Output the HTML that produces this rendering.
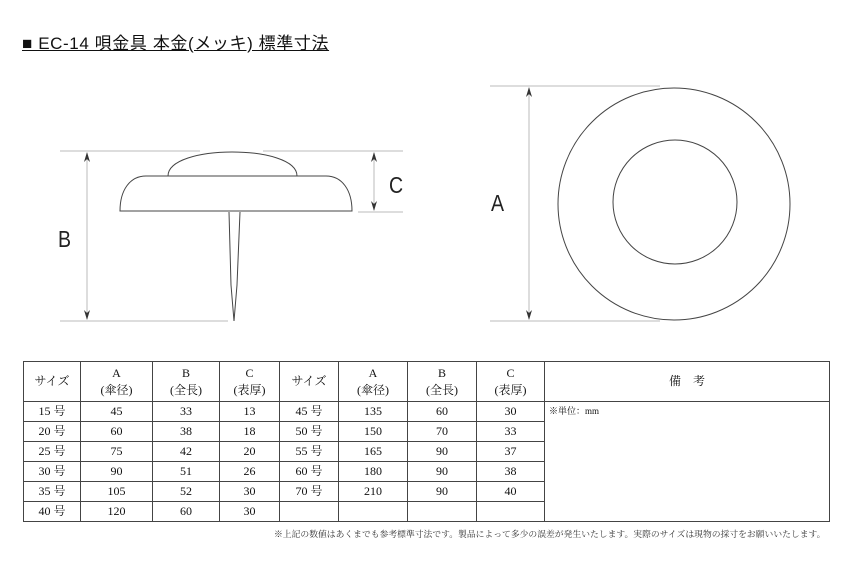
<!DOCTYPE html>
<html><head><meta charset="utf-8"><style>
body{margin:0;width:850px;height:567px;background:#fff;position:relative;overflow:hidden;font-family:"Liberation Serif","Noto Serif CJK SC",serif;}
.title{position:absolute;left:22px;top:29px;font-family:"Liberation Sans","Noto Sans CJK JP",sans-serif;font-size:17px;color:#111;text-decoration:underline;white-space:nowrap;letter-spacing:0.6px}
table{position:absolute;left:23px;top:361px;border-collapse:collapse;font-size:12px;color:#111}
td{border:1px solid #444;text-align:center;padding:0;height:19px;line-height:19px}
.h td{height:39px;line-height:17px}
.note{position:absolute;left:274px;top:527px;font-size:8.8px;color:#333;white-space:nowrap}
</style></head><body>
<div class="title">■ EC-14 唄金具 本金(メッキ) 標準寸法</div>
<svg width="850" height="567" style="position:absolute;left:0;top:0">
<g stroke="#bbb" stroke-width="1" fill="none">
<line x1="60" y1="151" x2="200" y2="151"/><line x1="263" y1="151" x2="403" y2="151"/>
<line x1="60" y1="321" x2="228" y2="321"/>
<line x1="358" y1="212" x2="403" y2="212"/>
<line x1="87" y1="153" x2="87" y2="319"/>
<line x1="374" y1="153" x2="374" y2="210"/>
<line x1="490" y1="86" x2="660" y2="86"/><line x1="490" y1="321" x2="660" y2="321"/>
<line x1="529" y1="88" x2="529" y2="319"/>
</g>
<g fill="#333">
<path d="M87 152 l-3 10 l3 -3 l3 3z"/><path d="M87 320 l-3 -10 l3 3 l3 -3z"/>
<path d="M374 152 l-3 10 l3 -3 l3 3z"/><path d="M374 211 l-3 -10 l3 3 l3 -3z"/>
<path d="M529 87 l-3 10 l3 -3 l3 3z"/><path d="M529 320 l-3 -10 l3 3 l3 -3z"/>
</g>
<g stroke="#444" stroke-width="1" fill="#fff">
<path d="M168 176 C168 160 200 152 232 152 C265 152 297 160 297 176"/>
<path d="M120 211 C120 190 130 176 146 176 L326 176 C342 176 352 190 352 211 Z"/>
<path d="M229 212 L231 285 L234 321 L237 285 L240 212"/>
<circle cx="674" cy="204" r="116"/>
<circle cx="675" cy="202" r="62"/>
</g>
<g font-family="Liberation Sans, sans-serif" font-size="23" fill="#222">
<text x="58" y="247" transform="translate(58 247) scale(0.85 1) translate(-58 -247)">B</text>
<text x="389" y="193" transform="translate(389 193) scale(0.85 1) translate(-389 -193)">C</text>
<text x="491" y="211" transform="translate(491 211) scale(0.85 1) translate(-491 -211)">A</text>
</g>
</svg>
<table>
<colgroup><col style="width:57px"><col style="width:72px"><col style="width:67px"><col style="width:60px"><col style="width:59px"><col style="width:69px"><col style="width:69px"><col style="width:68px"><col style="width:285px"></colgroup>
<tr class="h"><td>サイズ</td><td>A<br>(傘径)</td><td>B<br>(全長)</td><td>C<br>(表厚)</td><td>サイズ</td><td>A<br>(傘径)</td><td>B<br>(全長)</td><td>C<br>(表厚)</td><td>備　考</td></tr>
<tr><td>15 号</td><td>45</td><td>33</td><td>13</td><td>45 号</td><td>135</td><td>60</td><td>30</td><td rowspan="6" style="vertical-align:top;text-align:left;font-size:9px;padding-left:4px">※単位：mm</td></tr>
<tr><td>20 号</td><td>60</td><td>38</td><td>18</td><td>50 号</td><td>150</td><td>70</td><td>33</td></tr>
<tr><td>25 号</td><td>75</td><td>42</td><td>20</td><td>55 号</td><td>165</td><td>90</td><td>37</td></tr>
<tr><td>30 号</td><td>90</td><td>51</td><td>26</td><td>60 号</td><td>180</td><td>90</td><td>38</td></tr>
<tr><td>35 号</td><td>105</td><td>52</td><td>30</td><td>70 号</td><td>210</td><td>90</td><td>40</td></tr>
<tr><td>40 号</td><td>120</td><td>60</td><td>30</td><td></td><td></td><td></td><td></td></tr>
</table>
<div class="note">※上記の数値はあくまでも参考標準寸法です。製品によって多少の誤差が発生いたします。実際のサイズは現物の採寸をお願いいたします。</div>
</body></html>
